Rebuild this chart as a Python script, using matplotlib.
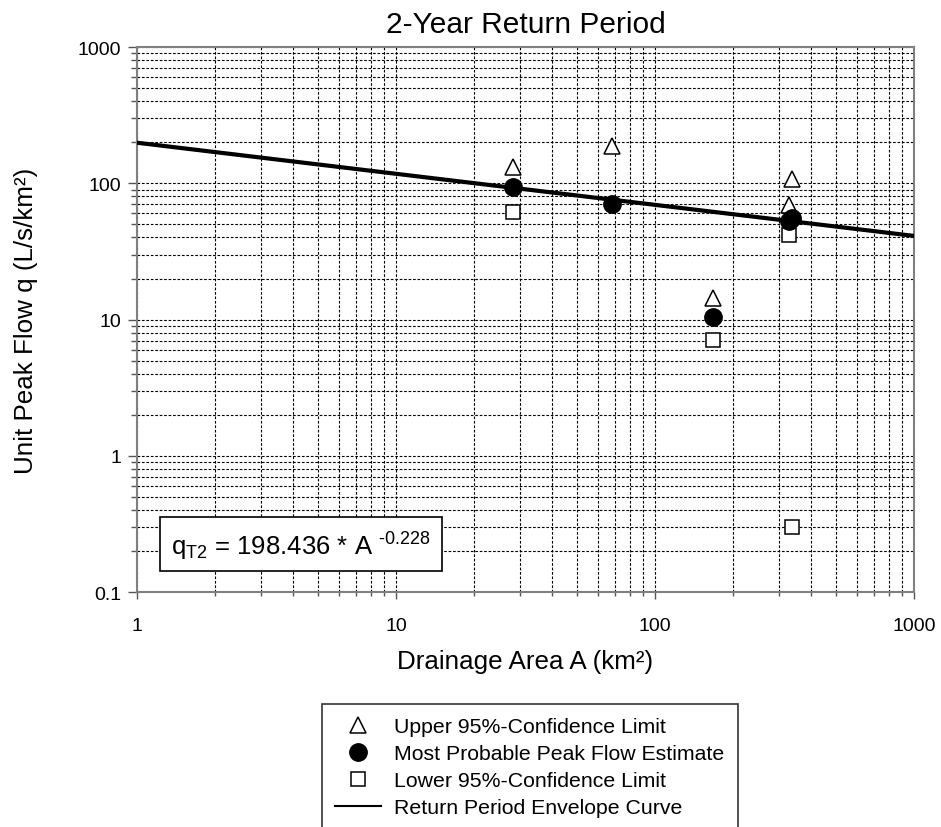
import numpy as np
import matplotlib.pyplot as plt
from matplotlib.ticker import LogLocator, FuncFormatter, NullFormatter

plt.rcParams['font.family'] = ['Liberation Sans', 'DejaVu Sans']
plt.rcParams['mathtext.fontset'] = 'custom'
plt.rcParams['mathtext.rm'] = 'Liberation Sans'

# data
area = [28.3, 68.2, 167.5, 330, 338]
upper = [131, 189, 14.4, 69, 107]
mid = [94.4, 70.4, 10.5, 52.5, 56]
lower = [61.2, None, 7.1, 42, 0.30]
coef = 198.436
expo = -0.228

A = np.logspace(0, 3, 200)
q = coef * A ** expo

fig = plt.figure(figsize=(9.41, 8.28), dpi=100)
ax = fig.add_axes([0.1456, 0.2838, 0.8257, 0.6582])
ax.set_xscale('log')
ax.set_yscale('log')
ax.set_xlim(1, 1000)
ax.set_ylim(0.1, 1000)

ax.grid(True, which='both', color='black', linestyle=(0, (2.4, 1.6)), linewidth=0.8)
ax.set_axisbelow(True)

ax.plot(A, q, color='black', lw=3, label='Return Period Envelope Curve', zorder=3)
lx = [a for a, v in zip(area, lower) if v is not None]
ly = [v for v in lower if v is not None]
ax.plot(area, upper, '^', ms=11, mfc='white', mec='black', mew=1.1, ls='none',
        label='Upper 95%-Confidence Limit', zorder=4)
ax.plot(area, mid, 'o', ms=12.5, color='black', ls='none',
        label='Most Probable Peak Flow Estimate', zorder=5)
ax.plot(lx, ly, 's', ms=10.5, mfc='white', mec='black', mew=1.1, ls='none',
        label='Lower 95%-Confidence Limit', zorder=4)

fmt = FuncFormatter(lambda v, p: ('%g' % v))
ax.xaxis.set_major_locator(LogLocator(base=10, numticks=10))
ax.yaxis.set_major_locator(LogLocator(base=10, numticks=10))
ax.xaxis.set_minor_locator(LogLocator(base=10, subs=np.arange(2, 10), numticks=20))
ax.yaxis.set_minor_locator(LogLocator(base=10, subs=np.arange(2, 10), numticks=20))
ax.xaxis.set_major_formatter(fmt)
ax.yaxis.set_major_formatter(fmt)
ax.xaxis.set_minor_formatter(NullFormatter())
ax.yaxis.set_minor_formatter(NullFormatter())
ax.tick_params(which='major', direction='out', width=1, labelsize=14, color='#555555')
ax.tick_params(which='minor', direction='out', width=1, color='#555555')
ax.tick_params(axis='x', which='major', length=5, pad=13)
ax.tick_params(axis='x', which='minor', length=3)
ax.tick_params(axis='y', which='major', length=6.5, pad=5)
ax.tick_params(axis='y', which='minor', length=4)
for s in ax.spines.values():
    s.set_color('#808080')
    s.set_linewidth(1.5)

ax.set_title('2-Year Return Period', fontsize=21.5, pad=11)
ax.set_xlabel('Drainage Area A (km²)', fontsize=18.7, labelpad=11)
ax.set_ylabel('Unit Peak Flow q (L/s/km²)', fontsize=18.7)
ax.yaxis.set_label_coords(-0.128, 0.5)

ax.text(0.044, 0.088, r'$\mathrm{q_{T2}}$ = 198.436 * A $^{\text{-0.228}}$',
        transform=ax.transAxes, fontsize=18.5, va='center', ha='left',
        bbox=dict(boxstyle='square,pad=0.42', fc='white', ec='black', lw=1.2), zorder=6)

h, l = ax.get_legend_handles_labels()
order = [1, 2, 3, 0]
leg = fig.legend([h[i] for i in order], [l[i] for i in order],
                 loc='upper left', bbox_to_anchor=(0.342, 0.1486), fontsize=15.3,
                 frameon=True, fancybox=False, edgecolor='black',
                 handlelength=2.16, handletextpad=0.63, labelspacing=0.38,
                 borderpad=0.62, borderaxespad=0)
leg.get_frame().set_linewidth(1.2)
leg.legend_handles[3].set_linewidth(1.5)

fig.savefig('out.png', dpi=100)
